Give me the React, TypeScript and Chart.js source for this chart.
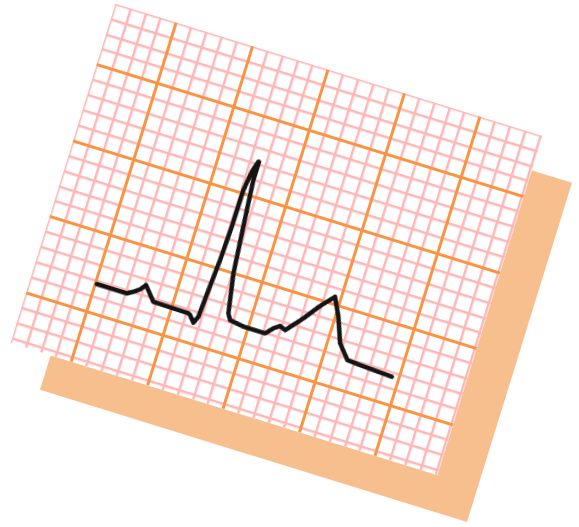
import React, { useEffect, useRef } from "react";
import { Chart, registerables } from "chart.js";

Chart.register(...registerables);

// ECG trace, in small-square (mm) units of the paper
const ecgTime = [0.09, 2.06, 2.43, 2.79, 3.07, 3.82, 4.15, 6.14, 6.27, 6.61, 6.8, 6.91, 7.05, 7.13, 7.15, 7.31, 7.52, 7.56, 7.86, 8.1, 8.54, 8.77, 9.69, 11.12, 11.52, 11.88, 12.26, 13.14, 13.91, 14.64, 15.21, 15.81, 16.56, 17.42, 19.54];
const ecgAmplitude = [1.81, 1.81, 2.03, 2.3, 2.67, 1.8, 1.8, 1.76, 1.69, 1.29, 1.74, 3.53, 5.55, 7.77, 10.19, 11.44, 12.17, 10.98, 7.56, 5.0, 2.5, 2.13, 1.98, 1.98, 2.44, 2.7, 2.55, 3.6, 4.65, 5.48, 4.34, 2.78, 1.91, 1.85, 1.73];

// paper extent (small squares)
const paperX = [-4, 24.11];
const paperY = [-3.33, 19];
const minorStep = [1];
const majorStep = [5];

const PAPER_W = 447;
const PAPER_H = 355;

function ECG() {
  const ref = useRef<HTMLCanvasElement | null>(null);
  useEffect(() => {
    if (!ref.current) return;
    const minorGrid = { color: "#FFB6B6", lineWidth: 2.5, drawTicks: false, z: -2 };
    const majorGrid = { color: "#FA9444", lineWidth: 3, drawTicks: false, z: -1 };
    const hidden = { display: false };
    const chart = new Chart(ref.current, {
      type: "line",
      data: {
        datasets: [
          {
            data: ecgTime.map((t, i) => ({ x: t, y: ecgAmplitude[i] })),
            borderColor: "#141414",
            borderWidth: 4.5,
            pointRadius: 0,
            tension: 0,
            borderJoinStyle: "round",
            borderCapStyle: "round",
            xAxisID: "x",
            yAxisID: "y",
          },
        ],
      },
      options: {
        animation: false,
        responsive: false,
        layout: { padding: 0 },
        plugins: { legend: { display: false }, tooltip: { enabled: false } },
        scales: {
          x: {
            type: "linear",
            position: "bottom",
            min: paperX[0],
            max: paperX[1],
            ticks: { display: false, stepSize: minorStep[0], includeBounds: false },
            grid: minorGrid,
            border: hidden,
          },
          xMajor: {
            type: "linear",
            axis: "x",
            position: "bottom",
            min: paperX[0],
            max: paperX[1],
            ticks: { display: false, stepSize: majorStep[0], includeBounds: false },
            grid: majorGrid,
            border: hidden,
          },
          y: {
            type: "linear",
            position: "left",
            min: paperY[0],
            max: paperY[1],
            ticks: { display: false, stepSize: minorStep[0], includeBounds: false },
            grid: minorGrid,
            border: hidden,
          },
          yMajor: {
            type: "linear",
            axis: "y",
            position: "left",
            min: paperY[0],
            max: paperY[1],
            ticks: { display: false, stepSize: majorStep[0], includeBounds: false },
            grid: majorGrid,
            border: hidden,
          },
        },
      } as any,
    });
    return () => chart.destroy();
  }, []);
  return <canvas ref={ref} width={PAPER_W} height={PAPER_H} style={{ display: "block" }} />;
}

export default function App() {
  return (
    <div
      style={{
        position: "absolute",
        left: 52.9,
        top: 61.9,
        width: PAPER_W,
        height: PAPER_H,
        transform: "rotate(17.2deg)",
        transformOrigin: "50% 50%",
      }}
    >
      <div
        style={{
          position: "absolute",
          left: 41.6,
          top: 36.3,
          width: PAPER_W,
          height: PAPER_H,
          background: "#F8BF8E",
        }}
      />
      <div
        style={{
          position: "absolute",
          left: 0,
          top: 0,
          width: PAPER_W,
          height: PAPER_H,
          background: "#FFFFFF",
        }}
      >
        <ECG />
      </div>
    </div>
  );
}
